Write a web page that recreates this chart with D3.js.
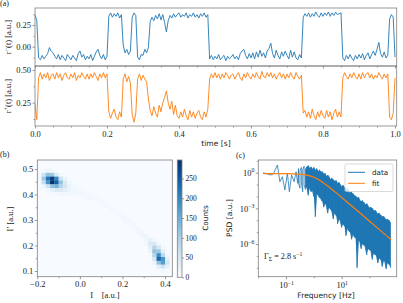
<!DOCTYPE html>
<html><head><meta charset="utf-8">
<script src="https://cdn.jsdelivr.net/npm/d3@7"></script>
<style>
body{margin:0;background:#fff}
</style></head><body>
<svg id="chart" width="403" height="303"></svg>
<script>
// ---------------- DATA ----------------
// (a) time traces, sampled every timeStep seconds
const timeStep = 0.005;
const rMinus = [
 .37,.30,-.13,-.15,-.10,-.14,-.11,-.08,-.01,-.05,
 -.07,-.11,-.14,-.09,-.15,-.10,-.13,-.16,-.09,-.12,
 -.15,-.10,-.13,-.16,-.08,-.05,-.12,-.09,-.15,-.11,
 -.14,-.09,-.16,-.11,-.06,-.03,-.10,-.14,-.09,-.15,
 -.11,.35,.39,.34,.38,.35,.39,.33,.37,.02,
 -.07,-.03,-.09,-.05,.34,.39,.36,-.12,-.15,-.09,
 -.10,-.03,-.07,-.01,.29,.34,.30,.36,.32,.38,
 .31,.37,.28,.17,.30,.36,.33,.38,.34,.37,
 .39,.34,.37,.35,.39,.33,.37,.35,.39,.34,
 .37,.33,.38,.35,.39,.34,.37,-.14,-.10,-.15,
 -.11,-.14,-.09,-.15,-.12,-.10,-.16,-.11,-.14,-.12,
 -.09,-.14,-.11,-.15,-.08,-.05,-.03,-.10,-.14,-.08,
 -.13,-.07,-.14,-.06,-.12,-.04,-.11,-.07,-.13,-.05,
 -.02,.04,-.08,-.13,-.04,-.10,-.14,-.06,-.11,-.05,
 -.10,-.14,-.04,-.12,-.06,-.13,-.15,-.09,-.13,.34,
 .38,.35,.39,.34,.38,.35,.40,.36,.34,.39,
 .35,.39,.36,.40,.35,.39,.36,.40,.37,.38,
 .39,-.13,-.16,-.10,-.14,-.09,-.13,-.16,-.10,-.14,
 -.09,-.13,-.08,-.15,-.10,-.07,-.14,-.09,-.05,-.10,
 -.03,.05,-.08,-.12,-.06,-.13,-.10,.32,.37,.34,
 -.12
];
const rPlus = [
 .24,.12,.44,.48,.43,.47,.44,.48,.42,.46,
 .47,.43,.48,.44,.47,.42,.46,.48,.44,.43,
 .47,.44,.48,.42,.46,.44,.48,.45,.43,.47,
 .43,.47,.44,.48,.45,.42,.47,.44,.48,.44,
 .47,.18,.13,.17,.20,.14,.12,.18,.14,.43,
 .47,.41,.45,.40,.16,.10,.17,.43,.47,.42,
 .46,.43,.41,.28,.19,.15,.22,.17,.14,.23,
 .18,.25,.29,.34,.25,.20,.26,.16,.23,.15,
 .13,.18,.14,.20,.15,.12,.19,.14,.18,.13,
 .17,.19,.14,.12,.18,.14,.20,.43,.47,.44,
 .48,.44,.47,.43,.47,.44,.48,.46,.43,.46,
 .47,.43,.46,.48,.44,.42,.47,.44,.48,.45,
 .43,.47,.44,.48,.45,.43,.49,.45,.44,.48,
 .45,.48,.44,.47,.43,.46,.48,.44,.47,.43,
 .47,.44,.48,.45,.43,.48,.45,.43,.46,.17,
 .19,.14,.18,.13,.20,.15,.12,.18,.14,.19,
 .15,.13,.19,.14,.18,.12,.17,.20,.14,.18,
 .14,.44,.48,.45,.43,.47,.44,.48,.45,.43,
 .47,.43,.48,.44,.47,.48,.44,.47,.43,.46,
 .44,.48,.45,.43,.47,.44,.47,.14,.12,.17,
 .44
];
const timeTicks = [0, 0.2, 0.4, 0.6, 0.8, 1.0];
const timeMinorTicks = [0.05,0.1,0.15,0.25,0.3,0.35,0.45,0.5,0.55,0.65,0.7,0.75,0.85,0.9,0.95];
const rMinusTicks = [0, 0.25];
const rMinusMinor = [-0.125, 0.125, 0.375];
const rPlusTicks = [0.25, 0.5];
const rPlusMinor = [0.125, 0.375];

// (b) 2D histogram: bin origin / size and non-empty cells [ix, iy, count]
const histX0 = -0.2, histBinW = 0.02;
const histY0 = 0.08, histBinH = 0.015;
const histCells = [
 [1,27,5],[2,27,15],[3,27,10],[4,27,3],
 [0,26,5],[1,26,60],[2,26,120],[3,26,110],[4,26,40],[5,26,8],
 [0,25,10],[1,25,110],[2,25,220],[3,25,280],[4,25,200],[5,25,60],[6,25,15],
 [0,24,5],[1,24,70],[2,24,180],[3,24,295],[4,24,240],[5,24,120],[6,24,40],[7,24,10],
 [1,23,15],[2,23,60],[3,23,120],[4,23,140],[5,23,90],[6,23,50],[7,23,20],[8,23,8],
 [2,22,10],[3,22,25],[4,22,40],[5,22,40],[6,22,30],[7,22,18],[8,22,10],[9,22,6],
 [4,21,5],[5,21,10],[6,21,12],[7,21,10],[8,21,8],[9,21,6],
 [10,21,10],[10,22,5],[11,21,8],[11,20,4],[12,20,9],[12,21,5],[13,20,8],[14,19,7],[14,20,4],
 [15,18,8],[15,19,6],[16,18,7],[17,17,6],[17,18,4],[18,16,7],[18,17,5],[19,15,8],[19,16,5],
 [20,14,9],[20,15,6],[21,14,8],[21,13,6],[22,13,10],[22,12,6],[23,12,10],[23,11,8],
 [24,11,14],[24,10,12],[25,10,18],
 [25,9,12],[26,9,25],[27,9,10],
 [25,8,10],[26,8,40],[27,8,45],[28,8,10],
 [26,7,30],[27,7,90],[28,7,50],[29,7,8],
 [26,6,15],[27,6,120],[28,6,110],[29,6,30],
 [26,5,5],[27,5,90],[28,5,190],[29,5,80],[30,5,10],
 [27,4,50],[28,4,230],[29,4,180],[30,4,30],
 [27,3,15],[28,3,120],[29,3,170],[30,3,50],
 [28,2,30],[29,2,60],[30,2,25],
 [29,1,10],[30,1,5]
];
const histXTicks = [-0.2, 0, 0.2, 0.4];
const histXMinor = [-0.1, 0.1, 0.3];
const histYTicks = [0.1, 0.2, 0.3, 0.4, 0.5];
const histYMinor = [0.15, 0.25, 0.35, 0.45];
const countMax = 297;
const countTicks = [0, 50, 100, 150, 200, 250];

// (c) PSD (log10 values); sparse low-frequency part, then dense band (upper / lower excursions)
const psdLowLogF = [-1.82,-1.55,-1.46,-1.31,-1.22,-1.13,-1.04,-0.95,-0.88,-0.80,-0.71,-0.64,-0.58];
const psdLowLogS = [0.0,-0.19,-0.11,0.65,-0.76,-0.34,-1.46,-0.05,-1.6,-0.19,-0.76,0.08,-0.89];
const psdBandLogF = [-0.55,-0.50,-0.45,-0.40,-0.35,-0.30,-0.25,-0.20,-0.15,-0.10,-0.05,0.00,
 0.05,0.10,0.15,0.20,0.25,0.30,0.35,0.40,0.45,0.50,0.55,0.60,0.65,0.70,0.75,0.80,0.85,0.90,
 0.95,1.00,1.05,1.10,1.15,1.20,1.25,1.30,1.35,1.40,1.45,1.50,1.55,1.60,1.65,1.70,1.75,1.80,
 1.85,1.90,1.95,2.00,2.05,2.10,2.15,2.20,2.25,2.30,2.35,2.40,2.45,2.50,2.55,2.60,2.65,2.70,2.75];
const psdBandHi = [0.35,0.15,0.45,0.25,0.55,0.3,0.5,0.6,0.35,0.5,0.3,0.45,
 0.2,0.35,0.1,0.25,0.05,
 0.1,-0.1,-0.05,-0.3,-0.2,-0.35,-0.55,-0.45,-0.6,-0.7,-0.65,-0.9,-0.8,-1.0,-1.15,-1.05,
 -1.2,-1.4,-1.3,-1.5,-1.7,-1.6,-1.75,-1.9,-1.95,-2.1,-2.05,-2.3,-2.4,-2.35,-2.5,-2.7,
 -2.6,-2.8,-2.95,-2.9,-3.0,-3.2,-3.15,-3.3,-3.45,-3.4,-3.55,-3.7,-3.65,-3.8,-3.95,-3.9,-4.0,-4.2];
const psdBandLo = [-0.9,-1.3,-0.8,-1.6,-1.0,-1.4,-1.2,-1.9,-1.3,-1.6,-1.5,-2.0,
 -3.7,-1.8,-1.9,-2.1,-2.2,
 -2.4,-2.9,-2.6,-2.8,-3.4,-2.9,-3.1,-3.3,-3.9,-3.4,-3.6,-4.3,-3.9,-4.1,-4.6,-4.3,
 -4.5,-5.3,-4.7,-4.9,-5.0,-5.6,-5.2,-5.4,-5.5,-8.0,-5.7,-5.8,-6.4,-6.0,-6.1,-6.3,
 -6.9,-6.4,-6.5,-6.6,-7.3,-6.8,-6.9,-7.0,-7.6,-7.2,-7.3,-7.9,-7.4,-7.5,-8.1,-7.6,-7.7,-8.0];
const psdSolidFrom = -0.3;   // above this frequency (log10) the trace fills a solid band
const fitLogF = [-1.82,-1.5,-1.0,-0.75,-0.5,-0.25,0,0.25,0.5,0.75,1.0,1.5,2.0,2.5,2.78];
const fitLogS = [-0.08,-0.08,-0.084,-0.094,-0.121,-0.199,-0.381,-0.699,-1.121,-1.593,-2.084,-3.08,-4.08,-5.08,-5.64];
const psdXTicks = [0.1, 10];
const psdXMinor = [0.01, 1, 100];
const psdYTicks = [1, 1e-3, 1e-6];
const psdYMinor = [10, 0.1, 0.01, 1e-4, 1e-5, 1e-7, 1e-8];
const gammaText = "2.8";

// ---------------- DRAWING ----------------
const SERIF = "'Liberation Serif','DejaVu Serif',serif";
const SANS = "'DejaVu Sans',sans-serif";
const C0 = "#1f77b4", C1 = "#ff7f0e";
const SPINE = "#808080", TICK = "#808080";
const svg = d3.select("#chart");
const defs = svg.append("defs");

function styleAxis(g, fs, family) {
  g.select(".domain").remove();
  g.selectAll(".tick line").attr("stroke", TICK).attr("stroke-width", 0.8);
  g.selectAll(".tick text").attr("font-family", family || SERIF).attr("font-size", fs || 8.5).attr("fill", "#222");
  g.attr("font-family", null).attr("font-size", null);
  return g;
}
function frame(x0, y0, x1, y1) {
  svg.append("rect").attr("x", x0).attr("y", y0).attr("width", x1 - x0).attr("height", y1 - y0)
    .attr("fill", "none").attr("stroke", SPINE).attr("stroke-width", 0.8);
}
function clip(id, x0, y0, x1, y1) {
  defs.append("clipPath").attr("id", id).append("rect")
    .attr("x", x0).attr("y", y0).attr("width", x1 - x0).attr("height", y1 - y0);
}
const fmtMinus = f => v => f(v).replace("-", "\u2212");

// ---- Panel (a)
const ax0 = 35, ax1 = 396.7;
const xA = d3.scaleLinear().domain([0, 1.0047]).range([ax0, ax1]);
const yA1 = d3.scaleLinear().domain([-0.222, 0.446]).range([66, 8]);
const yA2 = d3.scaleLinear().domain([0.0715, 0.5306]).range([126, 66]);
clip("clipA1", ax0, 8, ax1, 66);
clip("clipA2", ax0, 66, ax1, 126);

svg.append("path").datum(rMinus).attr("clip-path", "url(#clipA1)")
  .attr("d", d3.line().x((d, i) => xA(i * timeStep)).y(d => yA1(d)))
  .attr("fill", "none").attr("stroke", C0).attr("stroke-width", 0.9).attr("stroke-linejoin", "round");
svg.append("path").datum(rPlus).attr("clip-path", "url(#clipA2)")
  .attr("d", d3.line().x((d, i) => xA(i * timeStep)).y(d => yA2(d)))
  .attr("fill", "none").attr("stroke", C1).attr("stroke-width", 0.9).attr("stroke-linejoin", "round");

// axes (a)
styleAxis(svg.append("g").attr("transform", `translate(${ax0},0)`)
  .call(d3.axisLeft(yA1).tickValues(rMinusTicks).tickSize(2.5).tickPadding(1.5).tickFormat(d3.format(".2f"))));
styleAxis(svg.append("g").attr("transform", `translate(${ax0},0)`)
  .call(d3.axisLeft(yA1).tickValues(rMinusMinor).tickSize(1.5).tickFormat("")));
styleAxis(svg.append("g").attr("transform", `translate(${ax0},0)`)
  .call(d3.axisLeft(yA2).tickValues(rPlusTicks).tickSize(2.5).tickPadding(1.5).tickFormat(d3.format(".2f"))));
styleAxis(svg.append("g").attr("transform", `translate(${ax0},0)`)
  .call(d3.axisLeft(yA2).tickValues(rPlusMinor).tickSize(1.5).tickFormat("")));
styleAxis(svg.append("g").attr("transform", `translate(0,66)`)
  .call(d3.axisBottom(xA).tickValues(timeTicks).tickSize(2.5).tickFormat("")));
styleAxis(svg.append("g").attr("transform", `translate(0,66)`)
  .call(d3.axisBottom(xA).tickValues(timeMinorTicks).tickSize(1.5).tickFormat("")));
styleAxis(svg.append("g").attr("transform", `translate(0,126)`)
  .call(d3.axisBottom(xA).tickValues(timeTicks).tickSize(2.5).tickPadding(2).tickFormat(d3.format(".1f"))));
styleAxis(svg.append("g").attr("transform", `translate(0,126)`)
  .call(d3.axisBottom(xA).tickValues(timeMinorTicks).tickSize(1.5).tickFormat("")));
frame(ax0, 8, ax1, 66);
frame(ax0, 66, ax1, 126);

function rotLabel(x, y, family, fs, build) {
  const t = svg.append("text").attr("transform", `translate(${x},${y}) rotate(-90)`)
    .attr("text-anchor", "middle").attr("font-family", family).attr("font-size", fs).attr("fill", "#222");
  build(t);
  return t;
}
rotLabel(11, 37, SERIF, 8.5, t => {
  t.append("tspan").text("r");
  t.append("tspan").attr("dy", -3).attr("font-size", 6).text("\u2212");
  t.append("tspan").attr("dy", 3).text("(t) [a.u.]");
});
rotLabel(11, 96, SERIF, 8.5, t => {
  t.append("tspan").text("r");
  t.append("tspan").attr("dy", -3).attr("font-size", 6).text("+");
  t.append("tspan").attr("dy", 3).text("(t) [a.u.]");
});
svg.append("text").attr("x", 216).attr("y", 146).attr("text-anchor", "middle")
  .attr("font-family", SANS).attr("font-size", 7.6).attr("fill", "#222").text("time [s]");
svg.append("text").attr("x", 0).attr("y", 6).attr("font-family", SERIF).attr("font-size", 8).attr("fill", "#222").text("(a)");

// ---- Panel (b)
const bx0 = 37.3, bx1 = 172.3, by0 = 160, by1 = 276.7;
const xB = d3.scaleLinear().domain([-0.2, 0.4343]).range([bx0, bx1]);
const yB = d3.scaleLinear().domain([0.0777, 0.5353]).range([by1, by0]);
const cScale = d3.scaleSequential(d3.interpolateBlues).domain([0, countMax]);
clip("clipB", bx0, by0, bx1, by1);
svg.append("rect").attr("x", bx0).attr("y", by0).attr("width", bx1 - bx0).attr("height", by1 - by0).attr("fill", cScale(0));
svg.append("g").attr("clip-path", "url(#clipB)").selectAll("rect").data(histCells).join("rect")
  .attr("x", d => xB(histX0 + d[0] * histBinW))
  .attr("y", d => yB(histY0 + (d[1] + 1) * histBinH))
  .attr("width", d => xB(histX0 + (d[0] + 1) * histBinW) - xB(histX0 + d[0] * histBinW) + 0.3)
  .attr("height", d => yB(histY0 + d[1] * histBinH) - yB(histY0 + (d[1] + 1) * histBinH) + 0.3)
  .attr("fill", d => cScale(d[2]));
styleAxis(svg.append("g").attr("transform", `translate(0,${by1})`)
  .call(d3.axisBottom(xB).tickValues(histXTicks).tickSize(2.5).tickPadding(2).tickFormat(fmtMinus(d3.format(".1f")))));
styleAxis(svg.append("g").attr("transform", `translate(0,${by1})`)
  .call(d3.axisBottom(xB).tickValues(histXMinor).tickSize(1.5).tickFormat("")));
styleAxis(svg.append("g").attr("transform", `translate(${bx0},0)`)
  .call(d3.axisLeft(yB).tickValues(histYTicks).tickSize(2.5).tickPadding(1.5).tickFormat(d3.format(".1f"))));
styleAxis(svg.append("g").attr("transform", `translate(${bx0},0)`)
  .call(d3.axisLeft(yB).tickValues(histYMinor).tickSize(1.5).tickFormat("")));
frame(bx0, by0, bx1, by1);
svg.append("text").attr("x", 105).attr("y", 298).attr("text-anchor", "middle")
  .attr("font-family", SERIF).attr("font-size", 8.5).attr("fill", "#222").attr("xml:space", "preserve").text("I    [a.u.]");
rotLabel(13, 219, SERIF, 8.5, t => t.text("I\u2032 [a.u.]"));
svg.append("text").attr("x", 0).attr("y", 157).attr("font-family", SERIF).attr("font-size", 8).attr("fill", "#222").text("(b)");

// colorbar
const cbx0 = 177.3, cbx1 = 182, cby0 = 160, cby1 = 277.3;
const yCb = d3.scaleLinear().domain([0, countMax]).range([cby1, cby0]);
const grad = defs.append("linearGradient").attr("id", "cbGrad").attr("x1", 0).attr("y1", 1).attr("x2", 0).attr("y2", 0);
d3.range(0, 1.0001, 0.1).forEach(s => grad.append("stop").attr("offset", s).attr("stop-color", d3.interpolateBlues(s)));
svg.append("rect").attr("x", cbx0).attr("y", cby0).attr("width", cbx1 - cbx0).attr("height", cby1 - cby0)
  .attr("fill", "url(#cbGrad)").attr("stroke", SPINE).attr("stroke-width", 0.8);
styleAxis(svg.append("g").attr("transform", `translate(${cbx1},0)`)
  .call(d3.axisRight(yCb).tickValues(countTicks).tickSize(2).tickPadding(1.5).tickFormat(d3.format("d"))), 7.5);
rotLabel(208, 218, SANS, 7.3, t => t.text("Counts"));

// ---- Panel (c)
const cx0 = 258.3, cx1 = 396.7, cy0 = 160, cy1 = 276.7;
const xC = d3.scaleLog().domain([Math.pow(10, -1.995), Math.pow(10, 2.975)]).range([cx0, cx1]);
const yC = d3.scaleLog().domain([Math.pow(10, -8.75), Math.pow(10, 1.07)]).range([cy1, cy0]);
clip("clipC", cx0, cy0, cx1, cy1);
const px = lf => xC(Math.pow(10, lf)), py = ls => yC(Math.pow(10, ls));
// solid part of the noisy trace (many points per pixel)
const solid = psdBandLogF.map((lf, i) => ({ lf, hi: psdBandHi[i], lo: psdBandLo[i] })).filter(d => d.lf >= psdSolidFrom);
svg.append("path").datum(solid).attr("clip-path", "url(#clipC)")
  .attr("d", d3.area().x(d => px(d.lf)).y0(d => py(d.lo)).y1(d => py(d.hi)))
  .attr("fill", C0);
const psdPts = [];
psdLowLogF.forEach((lf, i) => psdPts.push([lf, psdLowLogS[i]]));
psdBandLogF.forEach((lf, i) => {
  if (i % 2 === 0) { psdPts.push([lf, psdBandHi[i]]); psdPts.push([lf, psdBandLo[i]]); }
  else { psdPts.push([lf, psdBandLo[i]]); psdPts.push([lf, psdBandHi[i]]); }
});
const logLine = d3.line().x(d => px(d[0])).y(d => py(d[1]));
svg.append("path").datum(psdPts).attr("clip-path", "url(#clipC)").attr("d", logLine)
  .attr("fill", "none").attr("stroke", C0).attr("stroke-width", 0.8).attr("stroke-linejoin", "round");
svg.append("path").datum(fitLogF.map((f, i) => [f, fitLogS[i]])).attr("clip-path", "url(#clipC)")
  .attr("d", d3.line().x(d => px(d[0])).y(d => py(d[1])).curve(d3.curveMonotoneX))
  .attr("fill", "none").attr("stroke", C1).attr("stroke-width", 1.2);

function supLabels(g, base) {
  g.selectAll(".tick text").each(function (d) {
    const e = Math.round(Math.log10(d));
    const t = d3.select(this); t.text(null);
    t.append("tspan").text(base);
    t.append("tspan").attr("dy", -3.5).attr("font-size", 5.8).text(String(e).replace("-", "\u2212"));
  });
}
const gcx = styleAxis(svg.append("g").attr("transform", `translate(0,${cy1})`)
  .call(d3.axisBottom(xC).tickValues(psdXTicks).tickSize(2.5).tickPadding(3).tickFormat(d => d)));
supLabels(gcx, "10");
styleAxis(svg.append("g").attr("transform", `translate(0,${cy1})`)
  .call(d3.axisBottom(xC).tickValues(psdXMinor).tickSize(1.5).tickFormat("")));
const gcy = styleAxis(svg.append("g").attr("transform", `translate(${cx0},0)`)
  .call(d3.axisLeft(yC).tickValues(psdYTicks).tickSize(2.5).tickPadding(1.5).tickFormat(d => d)));
supLabels(gcy, "10");
styleAxis(svg.append("g").attr("transform", `translate(${cx0},0)`)
  .call(d3.axisLeft(yC).tickValues(psdYMinor).tickSize(1.5).tickFormat("")));
frame(cx0, cy0, cx1, cy1);

// legend
const lg = svg.append("g");
lg.append("rect").attr("x", 345).attr("y", 164).attr("width", 48).attr("height", 27.5).attr("rx", 1.5)
  .attr("fill", "#fff").attr("fill-opacity", 0.8).attr("stroke", "#ccc").attr("stroke-width", 0.7);
[["data", C0, 172.3], ["fit", C1, 183.3]].forEach(([name, col, y]) => {
  lg.append("line").attr("x1", 348).attr("x2", 365).attr("y1", y).attr("y2", y).attr("stroke", col).attr("stroke-width", 1);
  lg.append("text").attr("x", 372).attr("y", y + 2.6).attr("font-family", SANS).attr("font-size", 7.2).attr("fill", "#222").text(name);
});

const gt = svg.append("text").attr("x", 264).attr("y", 259).attr("font-family", SERIF).attr("font-size", 8.2).attr("fill", "#222");
gt.append("tspan").text("\u0393");
gt.append("tspan").attr("dy", 2).attr("font-size", 5.8).text("\u03A3");
gt.append("tspan").attr("dy", -2).text(" = " + gammaText + " s");
gt.append("tspan").attr("dy", -3.5).attr("font-size", 5.8).text("\u22121");

rotLabel(232, 218, SANS, 7.6, t => t.text("PSD [a.u.]"));
svg.append("text").attr("x", 326).attr("y", 298).attr("text-anchor", "middle")
  .attr("font-family", SANS).attr("font-size", 7.6).attr("fill", "#222").text("Frequency [Hz]");
svg.append("text").attr("x", 236).attr("y", 158).attr("font-family", SERIF).attr("font-size", 8).attr("fill", "#222").text("(c)");
</script>
</body></html>
